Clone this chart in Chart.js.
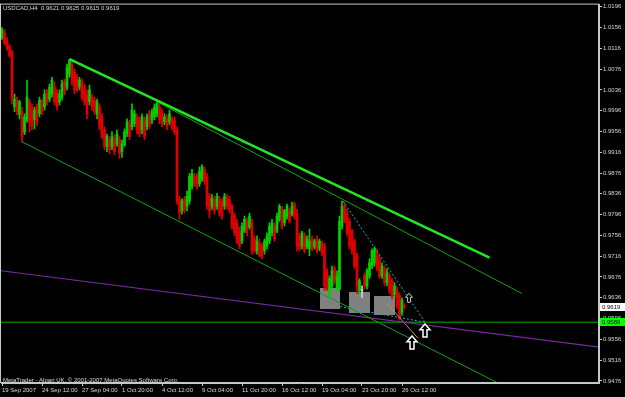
<!DOCTYPE html>
<html>
<head>
<meta charset="utf-8">
<script src="https://cdn.jsdelivr.net/npm/chart.js@4.4.1/dist/chart.umd.min.js"></script>
<style>
  html, body { margin: 0; padding: 0; background: #000; }
</style>
</head>
<body>
<canvas id="chart" width="625" height="397"></canvas>
<script>
// USDCAD H4 candles, bar 0 = 19 Sep 2007 20:00
const opens = [
  1.0137,1.0146,1.0131,1.0120,1.0108,1.0003,1.0016,0.9988,0.9994,0.9955,
  0.9978,1.0013,1.0003,0.9978,1.0003,0.9990,1.0013,1.0003,1.0032,1.0018,
  1.0028,1.0041,1.0032,1.0013,1.0022,1.0051,1.0041,1.0066,1.0085,1.0070,
  1.0060,1.0041,1.0051,1.0041,1.0028,1.0013,1.0022,1.0016,0.9990,1.0003,
  0.9984,0.9959,0.9927,0.9940,0.9927,0.9942,0.9932,0.9940,0.9917,0.9930,
  0.9951,0.9971,0.9965,0.9971,0.9984,0.9978,0.9959,0.9978,0.9965,0.9990,
  0.9978,0.9984,0.9990,1.0003,0.9994,0.9974,0.9980,0.9974,0.9978,0.9978,
  0.9959,0.9825,0.9803,0.9825,0.9812,0.9822,0.9850,0.9869,0.9869,0.9856,
  0.9864,0.9883,0.9869,0.9831,0.9812,0.9825,0.9812,0.9825,0.9822,0.9812,
  0.9827,0.9825,0.9812,0.9793,0.9780,0.9764,0.9745,0.9764,0.9783,0.9772,
  0.9780,0.9749,0.9726,0.9741,0.9736,0.9726,0.9736,0.9745,0.9761,0.9774,
  0.9764,0.9787,0.9806,0.9780,0.9793,0.9803,0.9797,0.9816,0.9799,0.9755,
  0.9736,0.9755,0.9734,0.9730,0.9749,0.9734,0.9749,0.9730,0.9740,0.9736,
  0.9688,0.9640,0.9659,0.9692,0.9653,0.9653,0.9774,0.9812,0.9799,0.9783,
  0.9764,0.9745,0.9717,0.9650,0.9650,0.9678,0.9659,0.9678,0.9697,0.9703,
  0.9722,0.9711,0.9678,0.9692,0.9665,0.9678,0.9669,0.9642,0.9650,0.9640,
  0.9608,0.9621
];
const highs = [
  1.0156,1.0152,1.0137,1.0123,1.0112,1.0028,1.0022,1.0016,1.0003,0.9990,
  1.0055,1.0018,1.0009,1.0003,1.0009,1.0022,1.0018,1.0036,1.0037,1.0047,
  1.0060,1.0051,1.0037,1.0036,1.0055,1.0057,1.0085,1.0095,1.0093,1.0076,
  1.0066,1.0060,1.0057,1.0047,1.0036,1.0045,1.0028,1.0022,1.0018,1.0009,
  0.9990,0.9965,0.9951,0.9946,0.9955,0.9950,0.9959,0.9946,0.9940,0.9961,
  0.9980,0.9978,1.0009,0.9997,0.9990,0.9984,0.9990,0.9984,0.9990,0.9997,
  0.9999,1.0009,1.0013,1.0009,0.9999,0.9990,0.9988,0.9997,0.9984,0.9984,
  0.9965,0.9831,0.9827,0.9831,0.9841,0.9875,0.9883,0.9875,0.9875,0.9888,
  0.9892,0.9888,0.9875,0.9837,0.9835,0.9831,0.9837,0.9831,0.9827,0.9837,
  0.9835,0.9831,0.9816,0.9799,0.9787,0.9772,0.9780,0.9793,0.9789,0.9799,
  0.9787,0.9755,0.9755,0.9749,0.9741,0.9749,0.9761,0.9780,0.9787,0.9780,
  0.9799,0.9816,0.9812,0.9806,0.9816,0.9808,0.9820,0.9820,0.9806,0.9761,
  0.9764,0.9761,0.9755,0.9768,0.9755,0.9749,0.9755,0.9749,0.9745,0.9741,
  0.9692,0.9678,0.9697,0.9697,0.9688,0.9793,0.9822,0.9820,0.9806,0.9789,
  0.9768,0.9749,0.9722,0.9673,0.9659,0.9684,0.9692,0.9711,0.9730,0.9734,
  0.9730,0.9717,0.9703,0.9697,0.9692,0.9684,0.9673,0.9665,0.9657,0.9646,
  0.9636,0.9625
];
const lows = [
  1.0133,1.0123,1.0112,1.0099,1.0009,0.9994,0.9988,0.9980,0.9936,0.9950,
  0.9974,0.9955,0.9959,0.9961,0.9967,0.9984,0.9988,0.9997,1.0007,1.0013,
  1.0022,1.0007,0.9997,1.0007,1.0016,1.0026,1.0036,1.0060,1.0045,1.0028,
  1.0032,1.0036,1.0016,1.0007,0.9980,1.0007,0.9997,0.9988,0.9980,0.9959,
  0.9942,0.9921,0.9917,0.9913,0.9921,0.9911,0.9927,0.9904,0.9906,0.9927,
  0.9946,0.9940,0.9959,0.9965,0.9951,0.9946,0.9951,0.9940,0.9959,0.9961,
  0.9971,0.9978,0.9984,0.9971,0.9965,0.9969,0.9959,0.9969,0.9959,0.9950,
  0.9816,0.9787,0.9797,0.9799,0.9803,0.9816,0.9845,0.9850,0.9845,0.9850,
  0.9860,0.9854,0.9806,0.9789,0.9806,0.9797,0.9806,0.9793,0.9787,0.9806,
  0.9806,0.9799,0.9768,0.9755,0.9740,0.9730,0.9740,0.9761,0.9755,0.9768,
  0.9720,0.9722,0.9720,0.9715,0.9711,0.9720,0.9730,0.9740,0.9755,0.9745,
  0.9761,0.9783,0.9768,0.9774,0.9787,0.9780,0.9793,0.9787,0.9726,0.9726,
  0.9730,0.9722,0.9730,0.9717,0.9726,0.9730,0.9722,0.9726,0.9717,0.9650,
  0.9650,0.9634,0.9653,0.9663,0.9650,0.9650,0.9768,0.9780,0.9755,0.9730,
  0.9720,0.9692,0.9644,0.9644,0.9636,0.9653,0.9653,0.9673,0.9692,0.9697,
  0.9688,0.9673,0.9673,0.9659,0.9659,0.9644,0.9634,0.9636,0.9615,0.9593,
  0.9602,0.9615
];
const closes = [
  1.0152,1.0127,1.0116,1.0102,1.0018,1.0018,0.9994,1.0013,0.9946,0.9984,
  1.0022,0.9974,0.9965,0.9997,0.9974,1.0016,0.9994,1.0028,1.0013,1.0041,
  1.0055,1.0013,1.0003,1.0028,1.0047,1.0032,1.0079,1.0093,1.0051,1.0036,
  1.0036,1.0055,1.0022,1.0013,0.9990,1.0036,1.0003,0.9994,1.0013,0.9965,
  0.9946,0.9927,0.9946,0.9921,0.9946,0.9917,0.9951,0.9913,0.9932,0.9955,
  0.9974,0.9946,0.9997,0.9990,0.9959,0.9951,0.9984,0.9946,0.9984,0.9967,
  0.9994,1.0003,1.0009,0.9978,0.9971,0.9984,0.9965,0.9990,0.9965,0.9955,
  0.9822,0.9799,0.9822,0.9806,0.9831,0.9869,0.9875,0.9856,0.9850,0.9879,
  0.9888,0.9860,0.9812,0.9803,0.9827,0.9803,0.9831,0.9799,0.9793,0.9831,
  0.9812,0.9806,0.9774,0.9761,0.9745,0.9736,0.9774,0.9787,0.9761,0.9793,
  0.9726,0.9726,0.9745,0.9717,0.9715,0.9745,0.9755,0.9774,0.9780,0.9749,
  0.9793,0.9812,0.9774,0.9803,0.9812,0.9783,0.9812,0.9793,0.9736,0.9730,
  0.9761,0.9726,0.9749,0.9745,0.9730,0.9745,0.9726,0.9745,0.9722,0.9659,
  0.9653,0.9673,0.9688,0.9669,0.9678,0.9783,0.9812,0.9783,0.9761,0.9736,
  0.9726,0.9697,0.9659,0.9669,0.9650,0.9659,0.9688,0.9703,0.9726,0.9730,
  0.9692,0.9678,0.9697,0.9665,0.9684,0.9650,0.9640,0.9659,0.9621,0.9596,
  0.9631,0.9619
];

const timeTickBars = [0, 16, 32, 48, 64, 80, 96, 112, 128, 144, 160];
const timeTickLabels = ['19 Sep 2007', '24 Sep 12:00', '27 Sep 04:00', '1 Oct 20:00', '4 Oct 12:00',
  '9 Oct 04:00', '11 Oct 20:00', '16 Oct 12:00', '19 Oct 04:00', '23 Oct 20:00', '26 Oct 12:00'];
const priceTicks = [1.0196, 1.0156, 1.0116, 1.0076, 1.0036, 0.9996, 0.9956, 0.9916, 0.9876, 0.9836,
  0.9796, 0.9756, 0.9716, 0.9676, 0.9636, 0.9596, 0.9556, 0.9516, 0.9476];

// chart objects, as [bar, price] pairs
const upperTrend = [[27, 1.0095], [195, 0.9713]];
const innerTrend = [[62, 1.0013], [208, 0.9644]];
const lowerTrend = [[8, 0.9936], [198.4, 0.9472]];
const purpleLine = [[-0.4, 0.9688], [238.8, 0.9541]];
const supportLevel = 0.9589;
const cyanFromPeak = [[136.4, 0.9822], [169.2, 0.9589]];
const cyanFromBoxes = [[135.2, 0.9619], [169.2, 0.9589]];
const orangeLine = [[154, 0.9625], [166.4, 0.9558]];
const boxes = [[127.2, 135.2, 0.9655, 0.9615], [138.8, 147.2, 0.9648, 0.9606], [148.8, 157.2, 0.9640, 0.9602]];
const arrows = [[162.8, 0.9636, 'small'], [164, 0.9550, 'big'], [169.2, 0.9573, 'big']];

const FONT = 'Liberation Sans';
const TEXT = '#d8d8d8';
const FRAME = '#c8c8c8';

const candleColors = opens.map((o, i) => closes[i] > o ? '#00d000' : (closes[i] < o ? '#e00000' : '#d0d0d0'));

function seg(pairs) {
  return pairs.map(([x, y]) => ({ x, y }));
}

function lineSet(pairs, color, width, dash) {
  return {
    type: 'line', data: seg(pairs), borderColor: color, borderWidth: width,
    borderDash: dash || [], pointRadius: 0, fill: false, order: 0
  };
}

function drawArrow(ctx, cx, cy, big) {
  const w = big ? 10 : 7, h = big ? 13 : 9;
  const top = cy - h / 2, headY = top + h * 0.45;
  ctx.beginPath();
  ctx.moveTo(cx, top);
  ctx.lineTo(cx + w / 2, headY);
  ctx.lineTo(cx + w / 5, headY);
  ctx.lineTo(cx + w / 5, cy + h / 2);
  ctx.lineTo(cx - w / 5, cy + h / 2);
  ctx.lineTo(cx - w / 5, headY);
  ctx.lineTo(cx - w / 2, headY);
  ctx.closePath();
  ctx.fillStyle = '#000';
  ctx.fill();
  ctx.strokeStyle = big ? '#ffffff' : '#c8c8c8';
  ctx.lineWidth = big ? 1.5 : 1;
  ctx.stroke();
}

function priceTag(ctx, y, text, bg) {
  ctx.fillStyle = bg;
  ctx.fillRect(600, Math.round(y) - 4, 25, 8);
  ctx.fillStyle = '#000';
  ctx.textBaseline = 'middle';
  ctx.textAlign = 'left';
  ctx.fillText(text, 602, Math.round(y));
}

const mtOverlay = {
  id: 'mtOverlay',
  beforeDraw(chart) {
    const ctx = chart.ctx;
    ctx.save();
    ctx.fillStyle = '#000';
    ctx.fillRect(0, 0, chart.width, chart.height);
    ctx.restore();
  },
  beforeDatasetsDraw(chart) {
    const { ctx, scales: { x, y } } = chart;
    ctx.save();
    ctx.fillStyle = '#808080';
    boxes.forEach(([a, b, top, bottom]) => {
      const x0 = Math.round(x.getPixelForValue(a));
      const x1 = Math.round(x.getPixelForValue(b));
      const y0 = Math.round(y.getPixelForValue(top));
      const y1 = Math.round(y.getPixelForValue(bottom));
      ctx.fillRect(x0, y0, x1 - x0, y1 - y0);
    });
    ctx.restore();
  },
  afterDatasetsDraw(chart) {
    const { ctx, chartArea, scales: { x, y } } = chart;
    ctx.save();
    arrows.forEach(([bar, price, kind]) => {
      drawArrow(ctx, x.getPixelForValue(bar), y.getPixelForValue(price), kind === 'big');
    });
    const n = closes.length - 1;
    ctx.font = `6px "${FONT}"`;
    ctx.fillStyle = TEXT;
    ctx.textBaseline = 'middle';
    ctx.fillText(`USDCAD,H4  ${opens[n].toFixed(4)} ${highs[n].toFixed(4)} ${lows[n].toFixed(4)} ${closes[n].toFixed(4)}`,
      chartArea.left + 2, 8);
    ctx.fillText('MetaTrader - Alpari UK, \u00a9 2001-2007 MetaQuotes Software Corp.', chartArea.left + 2, chartArea.bottom - 3);
    ctx.restore();
  },
  afterDraw(chart) {
    const { ctx, chartArea, scales: { y } } = chart;
    ctx.save();
    ctx.strokeStyle = FRAME;
    ctx.lineWidth = 1;
    ctx.strokeRect(chartArea.left - 0.5, chartArea.top - 0.5, chartArea.right - chartArea.left, chartArea.bottom - chartArea.top);
    ctx.font = `6px "${FONT}"`;
    priceTag(ctx, y.getPixelForValue(closes[closes.length - 1]), closes[closes.length - 1].toFixed(4), '#ffffff');
    priceTag(ctx, y.getPixelForValue(supportLevel), supportLevel.toFixed(4), '#00ff00');
    ctx.restore();
  }
};

new Chart(document.getElementById('chart'), {
  type: 'bar',
  data: {
    datasets: [
      lineSet(upperTrend, '#22e822', 2.5),
      lineSet(innerTrend, '#14a014', 1),
      lineSet(lowerTrend, '#14a014', 1),
      lineSet(purpleLine, '#7a2a9e', 1.2),
      lineSet([[-0.4, supportLevel], [238.8, supportLevel]], '#00b400', 1),
      lineSet(cyanFromPeak, '#20b0c8', 1, [2, 2]),
      lineSet(cyanFromBoxes, '#20b0c8', 1, [2, 2]),
      lineSet(orangeLine, '#c09040', 1),
      {
        type: 'bar', order: 2, grouped: false, barThickness: 2, minBarLength: 1,
        data: opens.map((o, i) => ({ x: i, y: [o, closes[i]] })),
        backgroundColor: candleColors, borderWidth: 0
      },
      {
        type: 'bar', order: 3, grouped: false, barThickness: 1,
        data: highs.map((h, i) => ({ x: i, y: [lows[i], h] })),
        backgroundColor: candleColors, borderWidth: 0
      }
    ]
  },
  options: {
    responsive: false,
    animation: false,
    layout: { padding: { left: 1, top: 2, right: 0, bottom: 0 } },
    plugins: { legend: { display: false }, tooltip: { enabled: false } },
    scales: {
      x: {
        type: 'linear', min: -0.4, max: 238.8, offset: false,
        afterBuildTicks: (s) => { s.ticks = timeTickBars.map(v => ({ value: v })); },
        afterFit: (s) => { s.height = 14; },
        ticks: {
          callback: (v, i) => timeTickLabels[i], align: 'start', maxRotation: 0, minRotation: 0,
          autoSkip: false, padding: 1, color: TEXT, font: { family: FONT, size: 6 }
        },
        grid: { drawOnChartArea: false, drawTicks: true, tickLength: 3, color: FRAME, offset: false },
        border: { display: true, color: FRAME }
      },
      y: {
        type: 'linear', position: 'right', min: 0.9472, max: 1.0200,
        afterBuildTicks: (s) => { s.ticks = priceTicks.map(v => ({ value: v })); },
        afterFit: (s) => { s.width = 26; },
        ticks: {
          callback: (v) => v.toFixed(4), padding: 1, color: TEXT, font: { family: FONT, size: 6 }
        },
        grid: { drawOnChartArea: false, drawTicks: true, tickLength: 3, color: FRAME },
        border: { display: true, color: FRAME }
      }
    }
  },
  plugins: [mtOverlay]
});
</script>
</body>
</html>
